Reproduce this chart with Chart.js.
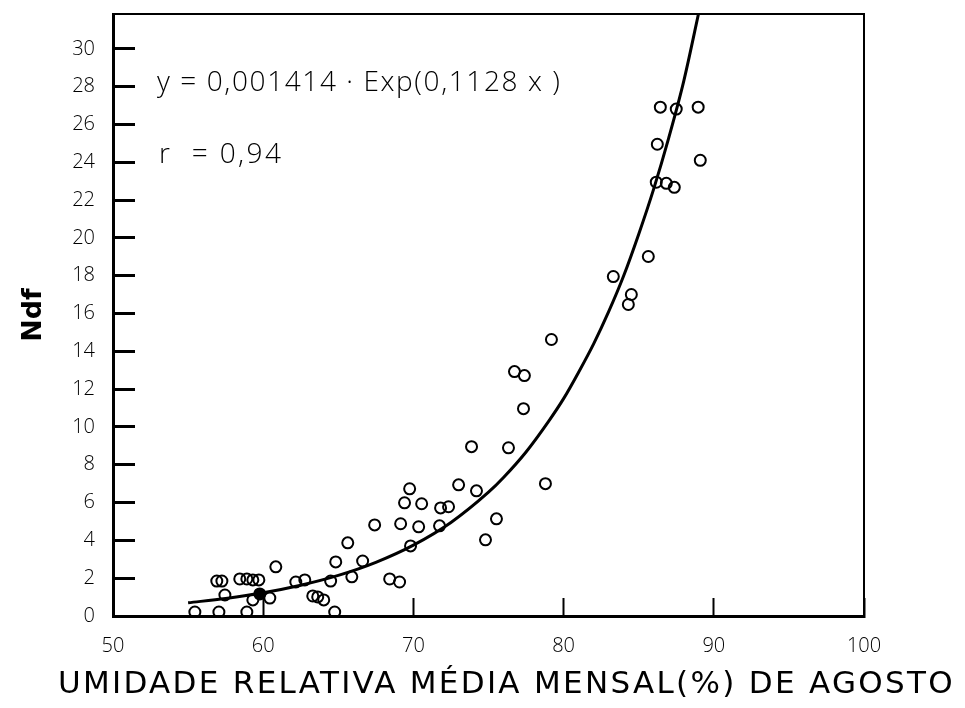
<!DOCTYPE html>
<html>
<head>
<meta charset="utf-8">
<script src="https://cdn.jsdelivr.net/npm/chart.js@4.4.1/dist/chart.umd.min.js"></script>
<style>
  html, body { margin: 0; padding: 0; background: #fff; }
  #wrap { width: 965px; height: 708px; }
</style>
</head>
<body>
<div id="wrap"><canvas id="ndfChart" width="965" height="708"></canvas></div>
<script>
// tick labels
const xTicks = [50, 60, 70, 80, 90, 100];
const yTicks = [0, 2, 4, 6, 8, 10, 12, 14, 16, 18, 20, 22, 24, 26, 28, 30];

const obsX = [55.45, 57.05, 58.91, 64.76,
  56.91, 57.25, 58.44, 58.91, 59.31, 59.71, 57.45, 59.31, 60.44, 60.84,
  62.17, 62.77, 63.30, 63.63, 64.03, 64.49, 64.83, 65.63, 65.90, 66.62,
  67.42, 68.42, 69.08, 69.75, 69.41, 70.55, 69.15, 70.35, 69.81, 71.81,
  72.34, 71.74, 73.01, 74.20, 73.87, 74.80, 75.53, 76.33, 77.33, 76.73,
  77.39, 79.19, 78.79, 83.31, 84.51, 84.31, 85.64, 86.17, 86.84, 87.37,
  86.24, 89.10, 86.44, 87.50, 88.96];
const obsY = [0.21, 0.21, 0.21, 0.21,
  1.85, 1.85, 1.96, 1.96, 1.91, 1.91, 1.11, 0.85, 0.95, 2.60,
  1.80, 1.91, 1.06, 1.01, 0.85, 1.85, 2.86, 3.87, 2.07, 2.91,
  4.82, 1.96, 1.80, 6.73, 5.99, 5.94, 4.88, 4.72, 3.71, 5.72,
  5.78, 4.77, 6.94, 6.62, 8.96, 4.03, 5.14, 8.90, 10.97, 12.93,
  12.72, 14.63, 7.00, 17.96, 17.01, 16.48, 19.02, 22.95, 22.89, 22.68,
  24.96, 24.11, 26.92, 26.82, 26.92];

// the dark (filled) point on the curve near 60
const filledX = [59.77];
const filledY = [1.17];

// fitted curve
const curveX = [55, 57.5, 60, 62.5, 65, 67.5, 70, 72.5, 75, 76, 77.5, 79, 80, 81, 82, 83, 84, 85, 86, 87, 88, 89.1];
const curveY = [0.70, 0.93, 1.23, 1.63, 2.15, 2.84, 3.75, 4.95, 6.55, 7.33, 8.68, 10.3, 11.5, 12.9, 14.4, 16.1, 18.0, 20.2, 22.6, 25.3, 28.3, 32.3];

const equationText = 'y = 0,001414 · Exp(0,1128 x )';
const rText = 'r  = 0,94';
const xTitle = 'UMIDADE RELATIVA MÉDIA MENSAL(%) DE AGOSTO';
const yTitle = 'Ndf';

const toPoints = (xs, ys) => xs.map((x, i) => ({ x: x, y: ys[i] }));

const framePlugin = {
  id: 'frame',
  afterDraw(chart) {
    const { ctx, chartArea: a } = chart;
    ctx.save();
    ctx.strokeStyle = '#000';
    ctx.lineWidth = 2;
    ctx.beginPath();
    ctx.moveTo(a.left, a.top);
    ctx.lineTo(a.right, a.top);
    ctx.lineTo(a.right, a.bottom);
    ctx.stroke();

    ctx.fillStyle = '#000';
    ctx.textBaseline = 'middle';
    ctx.textAlign = 'left';
    ctx.font = '300 28px "Open Sans"';
    ctx.letterSpacing = '1.6px';
    ctx.fillText(equationText, a.left + 44, 83);
    ctx.letterSpacing = '2.4px';
    ctx.fillText(rText, a.left + 46, 155);

    ctx.font = '31px "DejaVu Sans"';
    ctx.letterSpacing = '2.3px';
    ctx.fillText(xTitle, 58, 685);
    ctx.restore();
  }
};

const ndfChart = new Chart(document.getElementById('ndfChart'), {
  type: 'scatter',
  data: {
    datasets: [
      {
        label: 'curve',
        type: 'line',
        data: toPoints(curveX, curveY),
        borderColor: '#000',
        borderWidth: 3,
        pointRadius: 0,
        fill: false,
        cubicInterpolationMode: 'monotone'
      },
      {
        label: 'obs',
        data: toPoints(obsX, obsY),
        pointStyle: 'circle',
        pointRadius: 5.5,
        borderWidth: 2,
        borderColor: '#000',
        backgroundColor: 'rgba(0,0,0,0)'
      },
      {
        label: 'filled',
        data: toPoints(filledX, filledY),
        pointRadius: 5.5,
        borderWidth: 2,
        borderColor: '#000',
        backgroundColor: '#000'
      }
    ]
  },
  options: {
    responsive: false,
    animation: false,
    devicePixelRatio: 1,
    layout: { padding: { top: 14, right: 101, bottom: 0, left: 0 } },
    plugins: { legend: { display: false }, tooltip: { enabled: false } },
    scales: {
      x: {
        type: 'linear',
        min: 50,
        max: 100,
        afterBuildTicks: s => { s.ticks = xTicks.map(v => ({ value: v })); },
        afterFit: s => { s.height = 92; s.paddingLeft = 0; s.paddingRight = 0; },
        ticks: {
          autoSkip: false,
          maxRotation: 0,
          color: '#000',
          padding: 36,
          font: { family: 'Open Sans', size: 20, weight: '300' }
        },
        grid: { drawOnChartArea: false, drawTicks: true, tickLength: -18, tickWidth: 2, color: '#000' },
        border: { display: true, width: 3, color: '#000' }
      },
      y: {
        min: 0,
        max: 31.85,
        afterBuildTicks: s => { s.ticks = yTicks.map(v => ({ value: v })); },
        afterFit: s => { s.width = 113; s.paddingTop = 0; s.paddingBottom = 0; },
        ticks: {
          autoSkip: false,
          color: '#000',
          padding: 40,
          font: { family: 'Open Sans', size: 20, weight: '300' }
        },
        grid: { drawOnChartArea: false, drawTicks: true, tickLength: -22, tickWidth: 3, color: '#000' },
        border: { display: true, width: 3, color: '#000' },
        title: {
          display: true,
          text: yTitle,
          color: '#000',
          padding: { top: 18, bottom: 0 },
          font: { family: 'DejaVu Sans', size: 27, weight: 'bold' }
        }
      }
    }
  },
  plugins: [framePlugin]
});
</script>
</body>
</html>
